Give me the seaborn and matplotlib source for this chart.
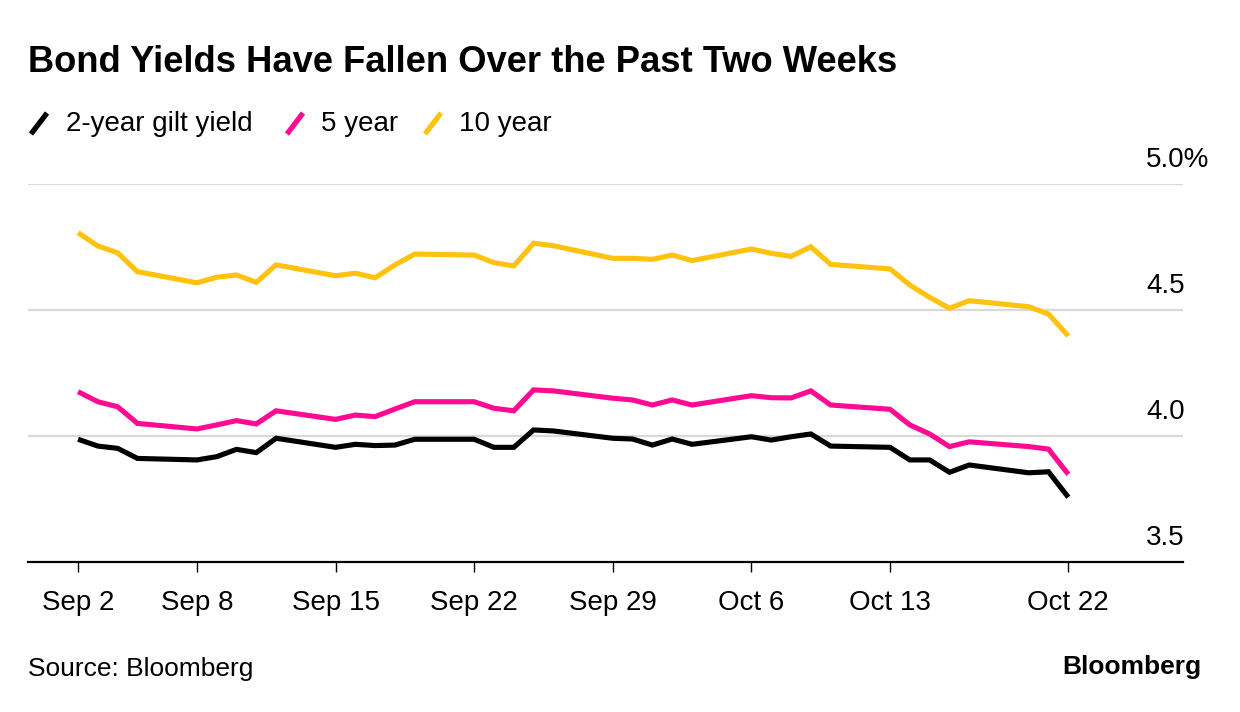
import matplotlib
matplotlib.use("Agg")
import matplotlib.pyplot as plt
from matplotlib.lines import Line2D
import seaborn as sns
import pandas as pd

dates = [
    "2025-09-02", "2025-09-03", "2025-09-04", "2025-09-05",
    "2025-09-08", "2025-09-09", "2025-09-10", "2025-09-11", "2025-09-12",
    "2025-09-15", "2025-09-16", "2025-09-17", "2025-09-18", "2025-09-19",
    "2025-09-22", "2025-09-23", "2025-09-24", "2025-09-25", "2025-09-26",
    "2025-09-29", "2025-09-30", "2025-10-01", "2025-10-02", "2025-10-03",
    "2025-10-06", "2025-10-07", "2025-10-08", "2025-10-09", "2025-10-10",
    "2025-10-13", "2025-10-14", "2025-10-15", "2025-10-16", "2025-10-17",
    "2025-10-20", "2025-10-21", "2025-10-22",
]

yield_2y = [
    3.987, 3.960, 3.951, 3.911,
    3.905, 3.918, 3.947, 3.934, 3.991,
    3.955, 3.967, 3.962, 3.964, 3.987,
    3.987, 3.955, 3.955, 4.024, 4.020,
    3.991, 3.988, 3.964, 3.988, 3.967,
    3.997, 3.984, 3.997, 4.008, 3.960,
    3.955, 3.905, 3.905, 3.856, 3.885,
    3.854, 3.858, 3.757,
]

yield_5y = [
    4.176, 4.136, 4.116, 4.050,
    4.028, 4.044, 4.061, 4.048, 4.100,
    4.066, 4.083, 4.077, 4.107, 4.136,
    4.136, 4.110, 4.100, 4.183, 4.179,
    4.150, 4.143, 4.123, 4.143, 4.123,
    4.160, 4.152, 4.151, 4.179, 4.123,
    4.106, 4.044, 4.008, 3.958, 3.977,
    3.958, 3.948, 3.848,
]

yield_10y = [
    4.807, 4.754, 4.727, 4.652,
    4.608, 4.630, 4.639, 4.610, 4.679,
    4.636, 4.646, 4.628, 4.679, 4.722,
    4.718, 4.688, 4.675, 4.765, 4.755,
    4.705, 4.705, 4.701, 4.718, 4.696,
    4.742, 4.725, 4.713, 4.751, 4.681,
    4.663, 4.599, 4.550, 4.507, 4.537,
    4.513, 4.484, 4.397,
]

series_names = ["2-year gilt yield", "5 year", "10 year"]
series_colors = ["#000000", "#FF0A93", "#FFC20E"]

tick_dates = ["2025-09-02", "2025-09-08", "2025-09-15", "2025-09-22",
              "2025-09-29", "2025-10-06", "2025-10-13", "2025-10-22"]
tick_labels = ["Sep 2", "Sep 8", "Sep 15", "Sep 22", "Sep 29",
               "Oct 6", "Oct 13", "Oct 22"]
y_ticks = [3.5, 4.0, 4.5, 5.0]
y_tick_labels = ["3.5", "4.0", "4.5", "5.0%"]

title = "Bond Yields Have Fallen Over the Past Two Weeks"
source = "Source: Bloomberg"
brand = "Bloomberg"

# ---- build long-form table ----
frames = []
for name, vals in zip(series_names, [yield_2y, yield_5y, yield_10y]):
    frames.append(pd.DataFrame({"date": pd.to_datetime(dates), "value": vals, "series": name}))
df = pd.concat(frames, ignore_index=True)

sns.set_theme(style="white")
plt.rcParams["font.family"] = ["Liberation Sans", "DejaVu Sans"]

W, H = 1240, 712
fig = plt.figure(figsize=(W / 100, H / 100), dpi=100)
ax = fig.add_axes([28 / W, 1 - 562 / H, (1183 - 28) / W, (562 - 184) / H])

sns.lineplot(data=df, x="date", y="value", hue="series",
             palette=dict(zip(series_names, series_colors)),
             hue_order=series_names, linewidth=3.7, legend=False, ax=ax)
for ln in ax.get_lines():
    ln.set_solid_joinstyle("miter")
    ln.set_solid_capstyle("butt")

ax.set_ylim(3.5, 5.0)
ax.set_xlim(pd.Timestamp("2025-08-30 11:20"), pd.Timestamp("2025-10-27 19:00"))
ax.set_xlabel("")
ax.set_ylabel("")

# grid lines
for yv in y_ticks[1:]:
    ax.axhline(yv, color="#d9d9d9", lw=1.6, zorder=0)

for s in ["top", "right", "left"]:
    ax.spines[s].set_visible(False)
ax.spines["bottom"].set_color("black")
ax.spines["bottom"].set_linewidth(1.6)

ax.set_yticks([])
ax.set_xticks(pd.to_datetime(tick_dates))
ax.set_xticklabels(tick_labels)
ax.tick_params(axis="x", which="major", direction="out", length=7, width=1.0,
               color="black", pad=13, labelsize=20, labelcolor="black", bottom=True)

# right-side y labels above grid lines
trans = ax.get_yaxis_transform()
for yv, lab in zip(y_ticks, y_tick_labels):
    ax.text((1146 - 28) / (1183 - 28), yv + 0.045, lab, transform=trans,
            ha="left", va="bottom", fontsize=20, color="black")

# title
fig.text(28 / W, 1 - 62 / H, title, ha="left", va="center",
         fontsize=26.2, fontweight="bold", color="black")

# legend
legend_items = [(31, 66), (287, 321), (425, 459)]
for (sx, tx), name, col in zip(legend_items, series_names, series_colors):
    fig.add_artist(Line2D([sx / W, (sx + 16) / W], [1 - 134 / H, 1 - 113 / H],
                          transform=fig.transFigure, color=col, lw=3.8,
                          solid_capstyle="butt"))
    fig.text(tx / W, 1 - 124 / H, name, ha="left", va="center",
             fontsize=20, color="black")

# footer
fig.text(28 / W, 1 - 669 / H, source, ha="left", va="center", fontsize=19, color="black")
fig.text(1201 / W, 1 - 667 / H, brand, ha="right", va="center", fontsize=19,
         fontweight="bold", color="black")

fig.savefig("out.png", dpi=100)
